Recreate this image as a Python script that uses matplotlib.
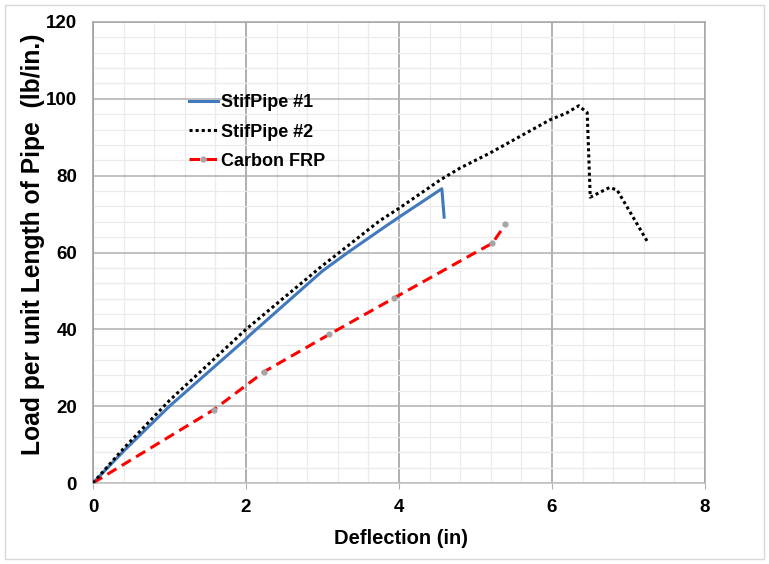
import matplotlib
matplotlib.use("Agg")
import matplotlib.pyplot as plt
from matplotlib.ticker import MultipleLocator
from matplotlib.patches import Rectangle

plt.rcParams['font.family'] = ['Liberation Sans', 'DejaVu Sans']
plt.rcParams['font.weight'] = 'bold'

# StifPipe #1 (blue, solid)
sp1_x = [0.0, 0.4, 1.0, 2.0, 2.05, 3.0, 3.33, 3.75, 4.0, 4.56, 4.59]
sp1_y = [0.0, 8.3, 20.0, 37.5, 38.5, 55.2, 60.0, 65.8, 69.2, 76.6, 69.2]

# StifPipe #2 (black, dotted)
sp2_x = [0.0, 0.4, 1.0, 2.0, 3.0, 3.22, 3.75, 4.0, 4.54, 4.80, 5.19,
         5.58, 5.97, 6.19, 6.35, 6.46, 6.50, 6.75, 6.85, 7.26]
sp2_y = [0.0, 9.0, 21.5, 40.0, 56.6, 60.0, 68.3, 71.5, 78.9, 82.0, 85.9,
         90.2, 94.5, 96.3, 98.2, 96.4, 74.4, 76.9, 76.3, 62.4]

# Carbon FRP (red, dashed, gray markers)
cf_x = [0.0, 1.58, 2.24, 3.09, 3.94, 5.0, 5.22, 5.39]
cf_y = [0.0, 19.1, 29.0, 38.7, 48.2, 60.0, 62.4, 67.3]
cf_mark = [True, True, True, True, True, False, True, True]

x_ticks = [0, 2, 4, 6, 8]
y_ticks = [0, 20, 40, 60, 80, 100, 120]

fig = plt.figure(figsize=(7.69, 5.64), dpi=100)
ax = fig.add_axes([93/769, 1-483/564, (705-93)/769, (483-22)/564])

# outer border
fig.patches.append(Rectangle((0.006, 0.008), 0.987, 0.984, transform=fig.transFigure,
                             fill=False, edgecolor='#d9d9d9', linewidth=1.0))

ax.set_xlim(0, 8)
ax.set_ylim(0, 120)
ax.set_xticks(x_ticks)
ax.set_yticks(y_ticks)
ax.xaxis.set_minor_locator(MultipleLocator(0.4))
ax.yaxis.set_minor_locator(MultipleLocator(4))

ax.grid(which='minor', axis='both', color='#ebebeb', linewidth=0.9)
ax.grid(which='major', axis='x', color='#9a9a9a', linewidth=1.1)
ax.grid(which='major', axis='y', color='#b0b0b0', linewidth=1.1)
ax.set_axisbelow(True)

for s in ['top', 'right']:
    ax.spines[s].set_color('#a6a6a6')
    ax.spines[s].set_linewidth(1.1)
ax.spines['left'].set_color('#9a9a9a')
ax.spines['bottom'].set_color('#c0c0c0')
ax.spines['left'].set_linewidth(1.1)
ax.spines['bottom'].set_linewidth(1.1)

ax.tick_params(axis='x', which='major', direction='out', length=4, color='#b0b0b0',
               labelsize=13.5, pad=7.5)
ax.tick_params(axis='y', which='major', length=0, labelsize=13.5, pad=11.5)
ax.tick_params(which='minor', length=0)
for lab in ax.get_xticklabels() + ax.get_yticklabels():
    lab.set_fontweight('bold')

ax.plot(sp1_x, sp1_y, color='#4279bd', linewidth=2.2, label='StifPipe #1', zorder=3)
ax.plot(sp2_x, sp2_y, color='black', linewidth=2.2, linestyle=(0, (1, 1)),
        dash_capstyle='butt', label='StifPipe #2', zorder=4)
ax.plot(cf_x, cf_y, color='red', linewidth=2.2, linestyle=(0, (3.5, 2)),
        marker='o', markersize=3.5, markerfacecolor='#a6a6a6', markeredgecolor='#a6a6a6',
        markevery=cf_mark, label='Carbon FRP', zorder=3)

leg = ax.legend(loc='upper left', bbox_to_anchor=(0.145, 0.859), frameon=False,
                prop={'size': 13, 'weight': 'bold'}, handlelength=1.6,
                handletextpad=0.2, labelspacing=0.68, borderaxespad=0)

ax.set_xlabel('Deflection (in)', fontsize=14.5, fontweight='bold')
ax.set_ylabel('Load per unit Length of Pipe  (lb/in.)', fontsize=17.7, fontweight='bold')
ax.xaxis.set_label_coords(0.503, -0.099)
ax.yaxis.set_label_coords(-0.079, 0.518)

fig.savefig('out.png', dpi=100)
